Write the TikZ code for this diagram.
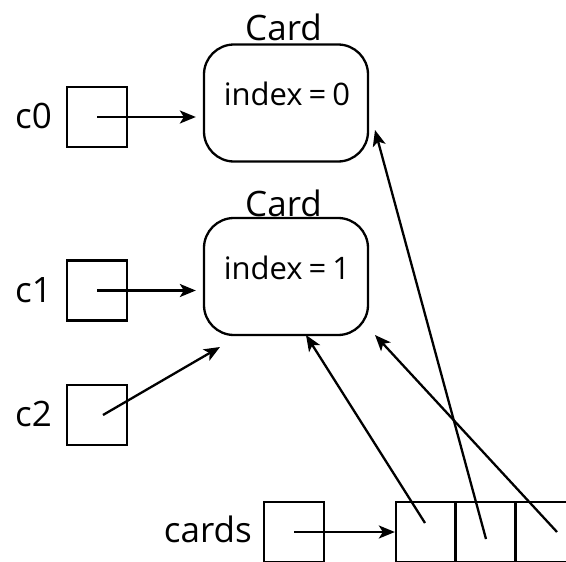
\documentclass[tikz,border=0pt]{standalone}
\usepackage{fontspec}
\setmainfont{Open Sans}
\usetikzlibrary{arrows.meta}
\newcommand\myidxfont{\fontsize{31}{36}\selectfont\spaceskip=6pt plus 1pt\relax}
\begin{document}
\begin{tikzpicture}[x=1pt,y=-1pt,line width=2.3pt,
  box/.style={draw, minimum width=60pt, minimum height=60pt, inner sep=0pt},
  card/.style={draw, rounded corners=30pt, minimum width=164pt, minimum height=117pt, inner sep=0pt},
  lbl/.style={font=\fontsize{35}{40}\selectfont, inner sep=0pt},
  ilbl/.style={font=\myidxfont, inner sep=0pt},
  ptr/.style={-{Stealth[length=16pt,width=13pt,inset=4pt]}, line width=2.3pt}]
\useasboundingbox (0,0) rectangle (566,562);
\clip (0,0) rectangle (566,562);
% cards
\node[card] (card0) at (286,103) {};
\node[card] (card1) at (286,276.5) {};
\node[lbl, anchor=base] (t0) at (283.5,40) {Card};
\node[lbl, anchor=base] (t1) at (283.5,216) {Card};
\node[ilbl, anchor=base] (i0) at (287,105) {index = 0};
\node[ilbl, anchor=base] (i1) at (287,279) {index = 1};
% variables
\node[box] (c0) at (97,117) {};
\node[box] (c1) at (97,290.5) {};
\node[box] (c2) at (97,415) {};
\node[lbl, anchor=base east] (l0) at (53,128) {c0};
\node[lbl, anchor=base east] (l1) at (53,302) {c1};
\node[lbl, anchor=base east] (l2) at (53,426) {c2};
\node[box] (cards) at (294,532) {};
\node[lbl, anchor=base east] (lc) at (253,542) {cards};
% array
\node[box, minimum width=59.5pt] (a0) at (425.75,532) {};
\node[box, minimum width=60pt] (a1) at (485.5,532) {};
\node[box, minimum width=60pt] (a2) at (545.5,532) {};
% coordinates
\coordinate (c2s) at (103,415);
\coordinate (c2e) at (220,347);
\coordinate (a0s) at (425,523);
\coordinate (a1s) at (486,539);
\coordinate (a2s) at (557,532);
\coordinate (k1a) at (306,335);
\coordinate (k1b) at (375,335);
\coordinate (k0) at (375,130);
% arrows
\draw[ptr, shorten >=7pt] (c0.center) -- (card0.west |- c0.center);
\draw[ptr, shorten >=7pt] (c1.center) -- (card1.west |- c1.center);
\draw[ptr] (c2s) -- (c2e);
\draw[ptr] (cards.center) -- (a0.west |- cards.center);
\draw[ptr] (a0s) -- (k1a);
\draw[ptr] (a1s) -- (k0);
\draw[ptr] (a2s) -- (k1b);
\end{tikzpicture}
\end{document}
